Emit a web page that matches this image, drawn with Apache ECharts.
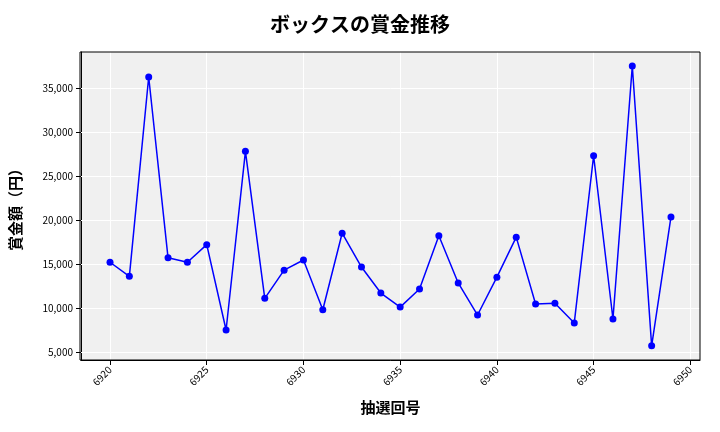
<!DOCTYPE html><html><head><meta charset="utf-8"><script src="https://cdn.jsdelivr.net/npm/echarts@6/dist/echarts.min.js"></script></head><body style="margin:0"><div id="c" style="width:720px;height:432px"></div><script>
const draws=[6920,6921,6922,6923,6924,6925,6926,6927,6928,6929,6930,6931,6932,6933,6934,6935,6936,6937,6938,6939,6940,6941,6942,6943,6944,6945,6946,6947,6948,6949];
const prizes=[15200,13600,36250,15700,15200,17200,7500,27800,11100,14300,15450,9800,18500,14650,11700,10100,12150,18200,12850,9200,13500,18050,10450,10550,8300,27300,8750,37500,5700,20350];
const yTicks=[5000,10000,15000,20000,25000,30000,35000];
const xTicks=[6920,6925,6930,6935,6940,6945,6950];
const f='"Noto Sans CJK JP"';
const ch=echarts.init(document.getElementById('c'));
ch.setOption({
title:{text:'ボックスの賞金推移',left:'center',top:9,textStyle:{fontFamily:f,fontSize:20,fontWeight:'bold',color:'#000'}},
grid:{left:80,right:20,top:52,bottom:72},
xAxis:{type:'value',min:6918.5,max:6950.5,name:'抽選回号',nameLocation:'middle',nameGap:40,nameTextStyle:{fontFamily:f,fontSize:15,fontWeight:'bold',color:'#000'},
 axisLabel:{rotate:45,fontFamily:f,fontSize:10,color:'#000',customValues:xTicks,formatter:v=>String(v)},axisTick:{customValues:xTicks},
 splitLine:{show:true,lineStyle:{color:'#fff'}},axisLine:{lineStyle:{color:'#000'}}},
yAxis:{type:'value',min:4090,max:39090,name:'賞金額（円）',nameLocation:'middle',nameGap:58,nameTextStyle:{fontFamily:f,fontSize:15,fontWeight:'bold',color:'#000'},
 axisLabel:{fontFamily:f,fontSize:10,color:'#000',customValues:yTicks,formatter:v=>v.toLocaleString('en-US')},
 axisTick:{show:true,customValues:yTicks},
 splitLine:{show:false},axisLine:{show:true,lineStyle:{color:'#000'}}},
series:[{type:'line',z:5,data:draws.map((d,i)=>[d,prizes[i]]),symbol:'circle',symbolSize:7,itemStyle:{color:'#0000ff'},lineStyle:{color:'#0000ff',width:1.5},
 markLine:{silent:true,z:1,symbol:'none',label:{show:false},lineStyle:{color:'#fff',type:'solid',width:1},data:yTicks.map(v=>({yAxis:v}))}}],
graphic:[{type:'rect',shape:{x:80,y:52,width:620,height:308},style:{fill:'#f0f0f0'},z:-10},
 {type:'rect',shape:{x:80,y:52,width:620,height:308},style:{fill:'none',stroke:'#000',lineWidth:1},z:10}]
});
</script></body></html>
